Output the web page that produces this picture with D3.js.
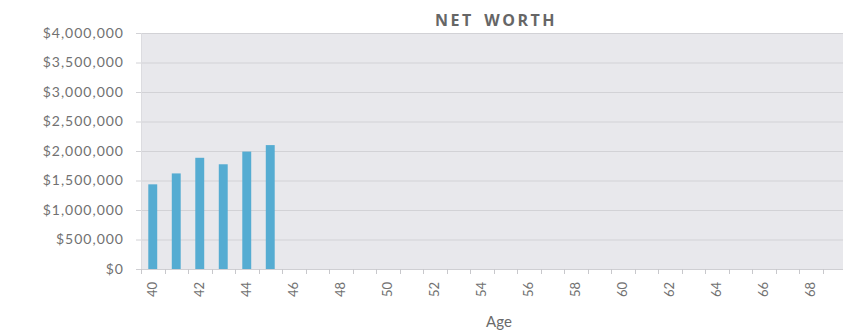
<!DOCTYPE html>
<html>
<head>
<meta charset="utf-8">
<script src="https://cdn.jsdelivr.net/npm/d3@7/dist/d3.min.js"></script>
<style>
  html, body { margin: 0; padding: 0; background: #fff; overflow: hidden; }
  svg { display: block; }
</style>
</head>
<body>
<svg id="chart" width="843" height="331"></svg>
<script>
const ages = d3.range(40, 70).map(String);
const netWorthAges = ["40", "41", "42", "43", "44", "45"];
const netWorthValues = [1435000, 1620000, 1885000, 1775000, 1990000, 2100000];
const yTicks = [0, 500000, 1000000, 1500000, 2000000, 2500000, 3000000, 3500000, 4000000];
const xTickLabels = ages.filter((a, i) => i % 2 === 0);

const svg = d3.select("#chart");
const margin = { left: 141, right: -3, top: 33, bottom: 62 };
const W = 843, H = 331;
const x = d3.scaleBand().domain(ages).range([margin.left, W - margin.right]).paddingInner(0.62).paddingOuter(0.31);
const y = d3.scaleLinear().domain([0, 4000000]).range([H - margin.bottom, margin.top]);

// plot background
svg.append("rect")
  .attr("x", margin.left).attr("y", margin.top)
  .attr("width", W - margin.right - margin.left)
  .attr("height", y(0) - margin.top)
  .attr("fill", "#e8e8ec");

// gridlines
svg.append("g").selectAll("line").data(yTicks).join("line")
  .attr("x1", margin.left - 5).attr("x2", W - margin.right)
  .attr("y1", d => y(d) + 0.5).attr("y2", d => y(d) + 0.5)
  .attr("stroke", d => d === 0 ? "#cfcfd3" : "#d2d2d6").attr("stroke-width", 1);

// left edge line
svg.append("line")
  .attr("x1", margin.left + 0.5).attr("x2", margin.left + 0.5)
  .attr("y1", margin.top).attr("y2", y(0))
  .attr("stroke", "#dcdce0");

// y labels
const fmt = d => "$" + d3.format(",")(d);
svg.append("g").selectAll("text").data(yTicks).join("text")
  .attr("x", 124).attr("y", d => y(d))
  .attr("dy", "0.35em")
  .attr("text-anchor", "end")
  .attr("font-family", "Lato, 'Open Sans', sans-serif")
  .attr("font-size", 14)
  .attr("letter-spacing", "1px")
  .attr("fill", "#717171")
  .text(fmt);

// bars
svg.append("g").selectAll("rect").data(netWorthAges.map((a, i) => ({ a, v: netWorthValues[i] }))).join("rect")
  .attr("x", d => x(d.a))
  .attr("width", x.bandwidth())
  .attr("y", d => y(d.v))
  .attr("height", d => y(0) - y(d.v))
  .attr("fill", "#55acd2");

// x ticks at category boundaries
const step = x.step();
svg.append("g").selectAll("line").data(d3.range(ages.length + 1)).join("line")
  .attr("x1", i => Math.round(x(ages[0]) - x.paddingInner() * step / 2 + i * step) + 0.5)
  .attr("x2", i => Math.round(x(ages[0]) - x.paddingInner() * step / 2 + i * step) + 0.5)
  .attr("y1", y(0)).attr("y2", y(0) + 5)
  .attr("stroke", "#c8c8cc");

// x labels
svg.append("g").selectAll("text").data(xTickLabels).join("text")
  .attr("transform", d => `translate(${x(d) + x.bandwidth() / 2 + 4.5},282) rotate(-90)`)
  .attr("text-anchor", "end")
  .attr("font-family", "Lato, 'Open Sans', sans-serif")
  .attr("font-size", 13)
  .attr("fill", "#717171")
  .text(d => d);

// title
svg.append("text")
  .attr("x", 496).attr("y", 26)
  .attr("text-anchor", "middle")
  .attr("font-family", "'Open Sans', sans-serif")
  .attr("font-weight", "bold")
  .attr("font-size", 16)
  .attr("letter-spacing", "2.5px")
  .attr("word-spacing", "4px")
  .attr("fill", "#666666")
  .text("NET WORTH");

// axis title
svg.append("text")
  .attr("x", 499).attr("y", 327)
  .attr("text-anchor", "middle")
  .attr("font-family", "Lato, 'Open Sans', sans-serif")
  .attr("font-size", 15)
  .attr("fill", "#6a6a6a")
  .text("Age");
</script>
</body>
</html>
